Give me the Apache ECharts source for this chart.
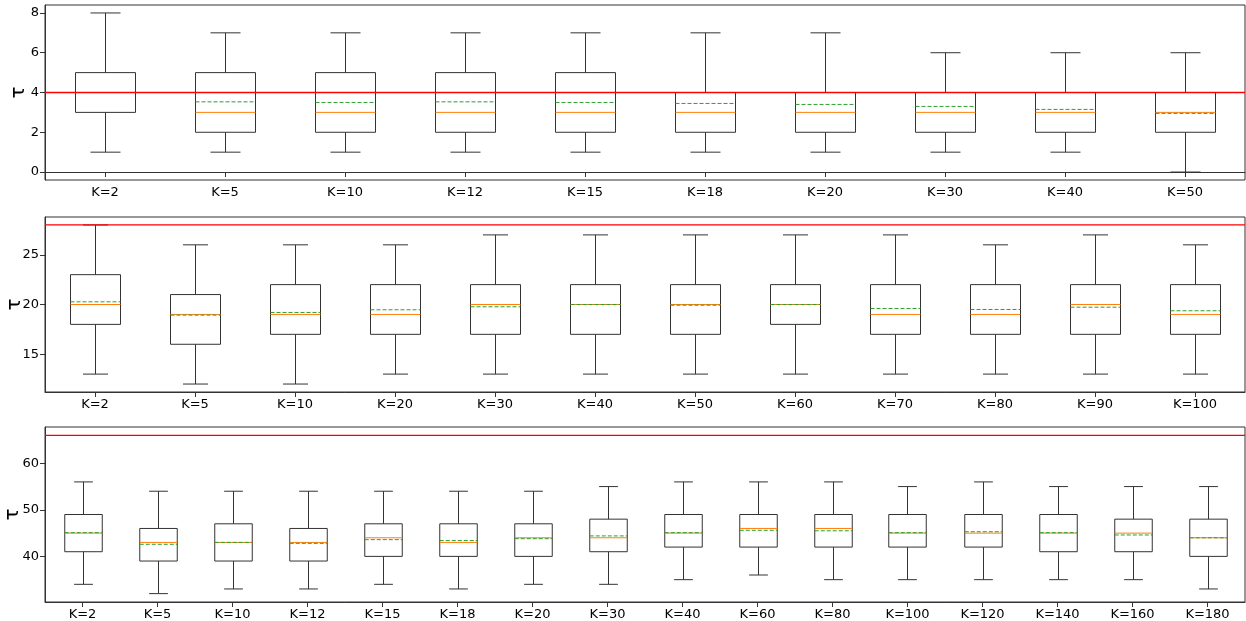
<!DOCTYPE html>
<html>
<head>
<meta charset="utf-8">
<script src="https://cdn.jsdelivr.net/npm/echarts@6/dist/echarts.min.js"></script>
<style>html,body{margin:0;padding:0;background:#fff}#c{width:1246px;height:621px}</style>
</head>
<body>
<div id="c"></div>
<script>
// ---- Panel 1 ----
const cats1 = ['K=2','K=5','K=10','K=12','K=15','K=18','K=20','K=30','K=40','K=50'];
const low1  = [1,1,1,1,1,1,1,1,1,0];
const q1_1  = [3,2,2,2,2,2,2,2,2,2];
const med1  = [4,3,3,3,3,3,3,3,3,3];
const q3_1  = [5,5,5,5,5,4,4,4,4,4];
const high1 = [8,7,7,7,7,7,7,6,6,6];
const mean1 = [4.0,3.53,3.5,3.53,3.5,3.45,3.4,3.3,3.15,2.95];
const ref1 = 4;
const yTicks1 = [0,2,4,6,8];

// ---- Panel 2 ----
const cats2 = ['K=2','K=5','K=10','K=20','K=30','K=40','K=50','K=60','K=70','K=80','K=90','K=100'];
const low2  = [13,12,12,13,13,13,13,13,13,13,13,13];
const q1_2  = [18,16,17,17,17,17,17,18,17,17,17,17];
const med2  = [20,19,19,19,20,20,20,20,19,19,20,19];
const q3_2  = [23,21,22,22,22,22,22,22,22,22,22,22];
const high2 = [28,26,26,26,27,27,27,27,27,26,27,26];
const mean2 = [20.27,18.93,19.2,19.47,19.77,20.0,19.93,20.0,19.6,19.5,19.73,19.37];
const ref2 = 28;
const yTicks2 = [15,20,25];

// ---- Panel 3 ----
const cats3 = ['K=2','K=5','K=10','K=12','K=15','K=18','K=20','K=30','K=40','K=60','K=80','K=100','K=120','K=140','K=160','K=180'];
const low3  = [34,32,33,33,34,33,34,34,35,36,35,35,35,35,35,33];
const q1_3  = [41,39,39,39,40,40,40,41,42,42,42,42,42,41,41,40];
const med3  = [45,43,43,43,44,43,44,44,45,46,46,45,45,45,45,44];
const q3_3  = [49,46,47,46,47,47,47,48,49,49,49,49,49,49,48,48];
const high3 = [56,54,54,54,54,54,54,55,56,56,56,55,56,55,55,55];
const mean3 = [45.1,42.6,43.0,42.8,43.6,43.4,43.8,44.4,45.1,45.6,45.5,45.1,45.3,45.1,44.6,44.0];
const ref3 = 66;
const yTicks3 = [40,50,60];

function rows(low,q1,med,q3,high,mean){
  return low.map((v,i)=>[i,v,q1[i],med[i],q3[i],high[i],mean[i]]);
}

const FONT = 'DejaVu Sans';
const EDGE = '#333';

function renderBox(params, api){
  const i = api.value(0);
  const lo = api.coord([i, api.value(1)]);
  const q1 = api.coord([i, api.value(2)]);
  const md = api.coord([i, api.value(3)]);
  const q3 = api.coord([i, api.value(4)]);
  const hi = api.coord([i, api.value(5)]);
  const mn = api.coord([i, api.value(6)]);
  const band = api.size([1,0])[0];
  const half = band*0.25, cap = band*0.125;
  const x = Math.round(lo[0]) + 0.5;
  const ln = {stroke:EDGE, lineWidth:1};
  return {type:'group', children:[
    {type:'line', shape:{x1:x,y1:lo[1],x2:x,y2:q1[1]}, style:ln},
    {type:'line', shape:{x1:x,y1:q3[1],x2:x,y2:hi[1]}, style:ln},
    {type:'line', shape:{x1:x-cap,y1:lo[1],x2:x+cap,y2:lo[1]}, style:ln},
    {type:'line', shape:{x1:x-cap,y1:hi[1],x2:x+cap,y2:hi[1]}, style:ln},
    {type:'rect', shape:{x:x-half,y:q3[1],width:2*half,height:q1[1]-q3[1]}, style:{fill:'none',stroke:EDGE,lineWidth:1}},
    {type:'line', shape:{x1:x-half,y1:md[1],x2:x+half,y2:md[1]}, style:{stroke:'#ff7f0e',lineWidth:1}},
    {type:'line', shape:{x1:x-half,y1:mn[1],x2:x+half,y2:mn[1]}, style:{stroke:'#2ca02c',lineWidth:1,lineDash:[4,2]}}
  ]};
}

function renderRef(params, api){
  const cs = params.coordSys;
  const p = api.coord([0, api.value(1)]);
  return {type:'line', shape:{x1:cs.x,y1:p[1],x2:cs.x+cs.width,y2:p[1]}, style:{stroke:'#ff0000',lineWidth:1.3}};
}

const panels = [
  {cats:cats1, data:rows(low1,q1_1,med1,q3_1,high1,mean1), ref:ref1, ticks:yTicks1, min:-0.4, max:8.4, top:5, gap:16},
  {cats:cats2, data:rows(low2,q1_2,med2,q3_2,high2,mean2), ref:ref2, ticks:yTicks2, min:11.2, max:28.8, top:217, gap:20},
  {cats:cats3, data:rows(low3,q1_3,med3,q3_3,high3,mean3), ref:ref3, ticks:yTicks3, min:30.2, max:67.8, top:427, gap:22}
];

const option = {
  animation:false,
  backgroundColor:'#fff',
  grid: panels.map(p=>({left:45, width:1200, top:p.top, height:175, show:true, borderColor:EDGE, borderWidth:1,
    backgroundColor:'transparent', containLabel:false, outerBoundsMode:'none'})),
  xAxis: panels.map((p,k)=>({
    type:'category', gridIndex:k, data:p.cats, boundaryGap:true,
    axisLine:{show:true, lineStyle:{color:EDGE, width:1}},
    axisTick:{show:true, alignWithLabel:true, length:5, lineStyle:{color:EDGE}},
    axisLabel:{color:'#000', fontFamily:FONT, fontSize:13, margin:6, interval:0},
    splitLine:{show:false}
  })),
  yAxis: panels.map((p,k)=>({
    type:'value', gridIndex:k, min:p.min, max:p.max,
    name:'τ', nameLocation:'middle', nameRotate:90, nameGap:p.gap, nameMoveOverlap:false,
    nameTextStyle:{color:'#000', fontFamily:FONT, fontSize:20},
    axisLine:{show:true, lineStyle:{color:EDGE, width:1}},
    axisTick:{show:true, length:5, lineStyle:{color:EDGE}, customValues:p.ticks},
    axisLabel:{color:'#000', fontFamily:FONT, fontSize:13, margin:6, customValues:p.ticks},
    splitLine:{show:false}
  })),
  series: []
};
panels.forEach((p,k)=>{
  option.series.push({type:'custom', xAxisIndex:k, yAxisIndex:k, renderItem:renderBox, data:p.data, clip:false, silent:true});
  option.series.push({type:'custom', xAxisIndex:k, yAxisIndex:k, renderItem:renderRef, data:[[0,p.ref]], silent:true, z:5});
});

const chart = echarts.init(document.getElementById('c'), null, {renderer:'canvas'});
chart.setOption(option);
</script>
</body>
</html>
